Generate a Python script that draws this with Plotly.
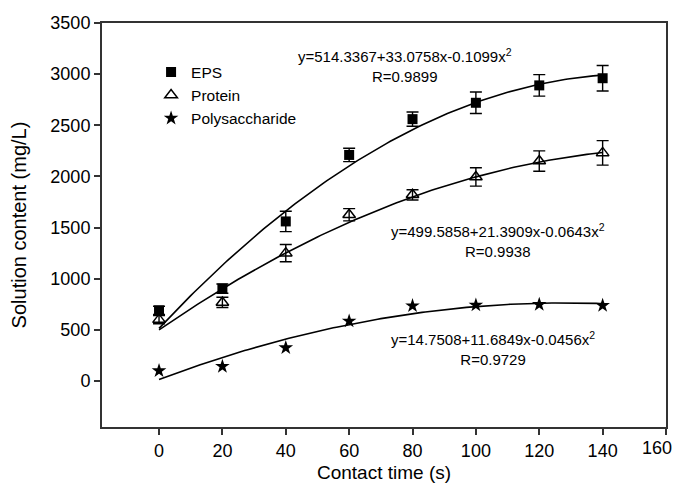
import numpy as np
import plotly.graph_objects as go

time_s = [0, 20, 40, 60, 80, 100, 120, 140]
eps = [690, 903, 1560, 2210, 2560, 2720, 2890, 2960]
eps_err = [40, 45, 100, 65, 70, 105, 105, 125]
protein = [600, 768, 1250, 1625, 1820, 1995, 2150, 2230]
protein_err = [40, 50, 85, 60, 50, 90, 100, 120]
poly = [100, 142, 325, 585, 735, 742, 748, 738]

eps_coef = [514.3367, 33.0758, -0.1099]
protein_coef = [499.5858, 21.3909, -0.0643]
poly_coef = [14.7508, 11.6849, -0.0456]

eps_label = "y=514.3367+33.0758x-0.1099x<sup>2</sup><br>R=0.9899"
protein_label = "y=499.5858+21.3909x-0.0643x<sup>2</sup><br>R=0.9938"
poly_label = "y=14.7508+11.6849x-0.0456x<sup>2</sup><br>R=0.9729"

x_ticks = [0, 20, 40, 60, 80, 100, 120, 140, 160]
y_ticks = [0, 500, 1000, 1500, 2000, 2500, 3000, 3500]

FONT = "Liberation Sans, Arial, sans-serif"

xf = np.linspace(0, 140, 141)
def fit(c):
    return c[0] + c[1] * xf + c[2] * xf ** 2

fig = go.Figure()
for c in (eps_coef, protein_coef, poly_coef):
    fig.add_trace(go.Scatter(x=xf, y=fit(c), mode="lines", line=dict(color="black", width=1.6),
                             showlegend=False, hoverinfo="skip"))

err_style = dict(type="data", color="black", thickness=1.4, width=6)
fig.add_trace(go.Scatter(x=time_s, y=eps, mode="markers", name="EPS",
                         marker=dict(symbol="square", size=10, color="black"),
                         error_y=dict(array=eps_err, **err_style)))
fig.add_trace(go.Scatter(x=time_s, y=protein, mode="markers", name="Protein",
                         marker=dict(symbol="triangle-up-open", size=11, color="black", line=dict(width=1.5)),
                         error_y=dict(array=protein_err, **err_style)))
fig.add_trace(go.Scatter(x=time_s, y=poly, mode="markers", name="Polysaccharide",
                         marker=dict(symbol="star", size=11, color="black")))

ann_font = dict(family=FONT, size=15, color="black")
for x, y, t in [(77.6, 3081, eps_label), (107, 1378, protein_label), (105.5, 316, poly_label)]:
    fig.add_annotation(x=x, y=y, text=t, showarrow=False, font=ann_font,
                       xanchor="center", yanchor="middle", align="center")

# last x tick label kept inside the visible page
fig.add_annotation(x=1, y=0, xref="paper", yref="paper", text=str(x_ticks[-1]),
                   showarrow=False, xanchor="right", yanchor="middle", xshift=8, yshift=-21,
                   font=dict(family=FONT, size=18, color="black"))

axis_common = dict(showline=True, linecolor="#333", linewidth=2, mirror=True, showgrid=False,
                   zeroline=False, ticks="outside", ticklen=6, tickwidth=1.5, tickcolor="#333",
                   automargin=False,
                   tickfont=dict(family=FONT, size=18, color="black"))
fig.update_xaxes(range=[-18, 160], tickvals=x_ticks,
                 ticktext=[str(v) for v in x_ticks[:-1]] + [""],
                 title=dict(text="Contact time (s)", standoff=6,
                            font=dict(family=FONT, size=19, color="black")),
                 **axis_common)
fig.update_yaxes(range=[-450, 3500], tickvals=y_ticks,
                 title=dict(text="Solution content (mg/L)", standoff=22,
                            font=dict(family=FONT, size=20, color="black")),
                 **axis_common)

fig.update_layout(
    width=682, height=487,
    margin=dict(l=94, r=24, t=15, b=68),
    plot_bgcolor="white", paper_bgcolor="white",
    legend=dict(x=0.087, y=0.92, xanchor="left", yanchor="top", bgcolor="rgba(0,0,0,0)",
                font=dict(family=FONT, size=15.5, color="black"),
                tracegroupgap=0, itemwidth=30),
)
fig.write_html("out.html")
